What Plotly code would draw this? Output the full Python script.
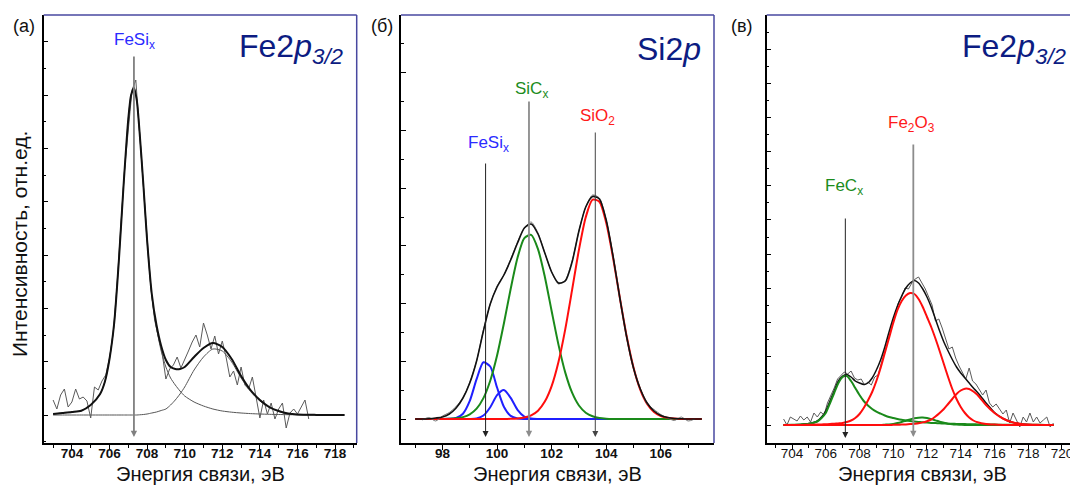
import plotly.graph_objects as go

FONT = "Arial, 'Liberation Sans', sans-serif"

# ---------------- Panel (а): Fe2p3/2, FeSix ----------------
A_GRID = [703, 703.5, 704, 704.5, 705, 705.5, 705.75, 706, 706.25, 706.5, 706.75, 707, 707.15, 707.3,
          707.45, 707.6, 707.8, 708, 708.25, 708.5, 708.75, 709, 709.25, 709.5, 709.75, 710, 710.5, 711,
          711.5, 712, 712.5, 713, 713.5, 714, 714.5, 715, 715.5, 716, 717, 718, 718.5]
A_COMP1 = [1, 2, 3, 4.3, 10, 21, 33, 56, 92, 155, 230, 296, 320, 327, 315, 283, 230, 174, 119, 87, 64, 48,
           37, 30, 24, 19, 13, 9, 6, 4, 2.8, 2, 1.4, 1, 0.7, 0.5, 0.3, 0.2, 0.1, 0, 0]
A_COMP2 = [0, 0, 0, 0, 0, 0, 0, 0, 0, 0, 0, 0, 0, 0, 0, 0.2, 0.5, 1, 2, 3, 4.5, 6, 10, 15, 21, 28, 45, 58,
           66, 64, 53, 37, 23.5, 14, 7.3, 3.5, 1.2, 0.3, 0, 0, 0]
A_ENV = [1, 2, 3, 4.3, 10, 21, 33, 56, 92, 155, 230, 296, 320, 327, 315, 283, 231, 175, 121, 90, 69, 55,
         48, 46, 46, 48, 58, 67, 72, 68, 56, 39, 25, 15, 8, 4, 1.5, 0.5, 0.1, 0, 0]
A_RAW_X = [703.0, 703.2, 703.4, 703.6, 703.8, 704.0, 704.2, 704.4, 704.6, 704.8, 705.0, 705.2, 705.4, 705.6,
           705.8, 706.0, 706.2, 706.4, 706.6, 706.8, 707.0, 707.2, 707.4, 707.6, 707.8, 708.0, 708.2, 708.4,
           708.6, 708.8, 709.0, 709.2, 709.4, 709.6, 709.8, 710.0, 710.2, 710.4, 710.6, 710.8, 711.0, 711.2,
           711.4, 711.6, 711.8, 712.0, 712.2, 712.4, 712.6, 712.8, 713.0, 713.2, 713.4, 713.6, 713.8, 714.0,
           714.2, 714.4, 714.6, 714.8, 715.0, 715.2, 715.4, 715.6, 715.8, 716.0, 716.2, 716.4, 716.6]
A_RAW_Y = [15, 6, 20, 26, 8, 13, 26, 16, 18, 14, -3, 28, 25, 34, 40, 57, 82, 130, 188, 245, 285, 325, 335,
           280, 225, 178, 128, 95, 78, 62, 36, 46, 50, 58, 47, 55, 64, 73, 80, 68, 92, 80, 66, 79, 61, 74,
           58, 38, 44, 30, 48, 30, 26, 38, 18, -3, 15, 1, 12, -4, 6, 12, -13, 2, 6, 1, 8, 15, -4]
A_PEAK_X = [707.3]
A_ARROW_TOP = [360]
A_ARROW_TIP = [-22]
A_ARROW_COLOR = ["#808080"]
A_ARROW_W = [1.8]
A_LABELS = ["FeSi<sub>x</sub>"]
A_LABEL_X = [707.35]
A_LABEL_Y = [374]
A_LABEL_COLOR = ["#2b2bff"]

# ---------------- Panel (б): Si2p ----------------
B_GRID = [97.0, 97.25, 97.5, 97.75, 98.0, 98.25, 98.5, 98.75, 99.0, 99.25, 99.5, 99.75, 100.0, 100.25,
          100.5, 100.75, 101.0, 101.25, 101.5, 101.75, 102.0, 102.25, 102.5, 102.75, 103.0, 103.25, 103.5,
          103.75, 104.0, 104.25, 104.5, 104.75, 105.0, 105.25, 105.5, 105.75, 106.0, 106.25, 106.5, 106.75,
          107.0, 107.25, 107.5]
B_FESI1 = [0, 0, 0, 0, 0, 0.13, 1.0, 5.3, 18.1, 39.8, 56.7, 52.5, 31.5, 12.3, 3.1, 0.5, 0.05,
           0, 0, 0, 0, 0, 0, 0, 0, 0, 0, 0, 0, 0, 0, 0, 0, 0, 0, 0, 0, 0, 0, 0, 0, 0, 0]
B_FESI2 = [0, 0, 0, 0, 0, 0, 0, 0, 0.07, 0.6, 3.5, 11.8, 23.8, 28.9, 21.1, 9.2, 2.4, 0.4, 0.03,
           0, 0, 0, 0, 0, 0, 0, 0, 0, 0, 0, 0, 0, 0, 0, 0, 0, 0, 0, 0, 0, 0, 0, 0]
B_SIC = [0, 0, 0, 0.02, 0.07, 0.24, 0.7, 1.9, 4.7, 10.4, 20.9, 38.3, 63.5, 95.5, 130.2, 161.2, 180.9,
         184.1, 169.9, 142.3, 108, 74.4, 46.4, 26.3, 13.5, 6.3, 2.7, 1.0, 0.36, 0.1,
         0, 0, 0, 0, 0, 0, 0, 0, 0, 0, 0, 0, 0]
B_SIO2 = [0, 0, 0, 0, 0, 0, 0, 0, 0, 0, 0, 0, 0, 0, 0.17, 0.5, 1.4, 3.6, 8.3, 17.4, 32.9, 57, 89.9, 129.1,
          169.1, 201.8, 219.4, 217.3, 196.2, 161.4, 121.1, 82.7, 51.5, 29.2, 15.1, 7.1, 3.0, 1.2, 0.4,
          0.1, 0, 0, 0]
B_ENV = [0, 0, 0.3, 1, 2, 5, 11, 21, 36, 58, 88, 115, 132, 144, 159, 176, 191, 195, 185, 166, 147, 136,
         138, 157, 188, 212, 222.5, 220, 199, 163, 121, 82, 51, 30, 16, 8, 3.5, 1.5, 0.5, 0.2, 0, 0, 0]
B_RAW_X = [97.25, 97.5, 97.75, 98.0, 98.25, 98.5, 98.75, 99.0, 99.25, 99.5, 99.75, 100.0, 100.25, 100.5,
           100.75, 101.0, 101.25, 101.5, 101.75, 102.0, 102.25, 102.5, 102.75, 103.0, 103.25, 103.5,
           103.75, 104.0, 104.25, 104.5, 104.75, 105.0, 105.25, 105.5, 105.75, 106.0, 106.25, 106.5,
           106.75, 107.0, 107.25]
B_RAW_Y = [-1, 1.5, -2, 3, 6.5, 12.5, 21, 37, 58, 89, 115, 133, 144, 160, 177, 191, 197, 186, 166, 147,
           135, 139, 158, 188, 212, 224, 221, 199, 163, 121, 82, 51, 30, 15, 9.5, 4.5, 1, -1.5, 2, -2, 0]
B_PEAK_X = [99.58, 101.17, 103.6]
B_ARROW_TOP = [257, 319, 288]
B_ARROW_TIP = [-18, -18, -18]
B_ARROW_COLOR = ["#222222", "#8c8c8c", "#444444"]
B_ARROW_W = [1, 1.8, 1]
B_LABELS = ["FeSi<sub>x</sub>", "SiC<sub>x</sub>", "SiO<sub>2</sub>"]
B_LABEL_X = [99.68, 101.25, 103.68]
B_LABEL_Y = [275, 329, 302]
B_LABEL_COLOR = ["#2b2bff", "#1c8c1c", "#ff1a1a"]

# ---------------- Panel (в): Fe2p3/2, FeCx / Fe2O3 ----------------
C_GRID = [703.5, 704, 704.5, 705, 705.5, 705.75, 706, 706.25, 706.5, 706.75, 707, 707.25, 707.5, 707.75,
          708, 708.25, 708.5, 708.75, 709, 709.25, 709.5, 709.75, 710, 710.25, 710.5, 710.75, 711, 711.25,
          711.5, 711.75, 712, 712.25, 712.5, 712.75, 713, 713.25, 713.5, 713.75, 714, 714.25, 714.5,
          714.75, 715, 715.5, 716, 716.5, 717, 717.5, 718, 718.5, 719, 719.5]
C_FEC = [0, 0.3, 0.6, 1.2, 3.5, 7, 12, 21.7, 32, 42, 48, 49, 44, 37, 30, 24, 19.5, 16, 13.3, 11.3, 9.5, 8,
         7, 6, 5.2, 4.6, 4, 3.5, 3.1, 2.7, 2.4, 2.1, 1.9, 1.7, 1.5, 1.3, 1.2, 1.1, 1, 0.9, 0.8, 0.7, 0.6,
         0.5, 0.4, 0.3, 0.3, 0.2, 0.2, 0.2, 0.1, 0.1]
C_FEC_SAT = [0, 0, 0, 0, 0, 0, 0, 0, 0, 0, 0, 0, 0, 0, 0, 0, 0, 0, 0, 0, 0.3, 0.6, 1.1, 1.9, 3, 4.3, 5.6,
             6.7, 7.3, 7.4, 6.9, 5.9, 4.6, 3.3, 2.2, 1.3, 0.7, 0.4, 0.2, 0, 0, 0, 0, 0, 0, 0, 0, 0, 0, 0,
             0, 0]
C_FE2O3 = [0, 0, 0, 0.2, 0.4, 0.6, 0.8, 1.0, 1.3, 1.6, 2, 3, 4.5, 7, 11, 17, 24.5, 33, 44, 57, 72, 87, 102,
           115, 124, 129.5, 132, 131, 126, 118, 108, 98, 86.5, 74, 61, 48, 36, 26, 18, 12, 7.5, 4.5, 2.7,
           1, 0.4, 0.1, 0, 0, 0, 0, 0, 0]
C_FE2O3_SAT = [0, 0, 0, 0, 0, 0, 0, 0, 0, 0, 0, 0, 0, 0, 0, 0, 0, 0, 0, 0, 0, 0, 0.2, 0.3, 0.4, 0.6, 0.9,
               1.3, 1.8, 2.6, 3.8, 5.5, 8.5, 12, 16, 21, 26, 31, 34.5, 36.3, 36, 33.5, 30, 20, 12, 6.5, 3,
               1.3, 0.5, 0.2, 0, 0]
C_ENV = [0, 0.3, 0.6, 1.4, 4, 8, 14, 24, 34, 44, 49, 50.5, 48, 44, 42, 40.5, 42, 47, 55, 65, 78, 93, 107,
         119, 129, 137, 142, 144.5, 142, 136, 128, 118, 106, 94, 83, 74, 65.5, 58, 52, 47, 42, 37, 32.5,
         22, 12.5, 6.5, 3, 1.3, 0.6, 0.3, 0.1, 0]
C_RAW_X = [703.5, 703.7, 703.9, 704.1, 704.3, 704.5, 704.7, 704.9, 705.1, 705.3, 705.5, 705.7, 705.9,
           706.1, 706.3, 706.5, 706.7, 706.9, 707.1, 707.3, 707.5, 707.7, 707.9, 708.1, 708.3, 708.5,
           708.7, 708.9, 709.1, 709.3, 709.5, 709.7, 709.9, 710.1, 710.3, 710.5, 710.7, 710.9, 711.1,
           711.3, 711.5, 711.7, 711.9, 712.1, 712.3, 712.5, 712.7, 712.9, 713.1, 713.3, 713.5, 713.7,
           713.9, 714.1, 714.3, 714.5, 714.7, 714.9, 715.1, 715.3, 715.5, 715.7, 715.9, 716.1, 716.3,
           716.5, 716.7, 716.9, 717.1, 717.3, 717.5, 717.7, 717.9, 718.1, 718.3, 718.5, 718.7, 718.9,
           719.1, 719.3, 719.5]
C_RAW_Y = [6, 0, 8, 6, 4, 9, 5, 8, 3, 12, 8, 13, 10, 22, 29, 37, 46, 49, 53, 51, 54, 47, 45, 46, 40, 43,
           40, 48, 50, 62, 74, 86, 97, 110, 122, 128, 137, 136, 142, 146, 148, 142, 136, 128, 120, 104,
           106, 97, 86, 76, 78, 67, 59, 52, 46, 57, 44, 41, 36, 30, 35, 22, 18, 21, 16, 11, 15, 2, 12, 5,
           -2, 8, 3, 12, 3, 8, 2, 5, 8, -2, 2]
C_PEAK_X = [707.16, 711.19]
C_ARROW_TOP = [208, 282]
C_ARROW_TIP = [-13, -12]
C_ARROW_COLOR = ["#222222", "#8c8c8c"]
C_ARROW_W = [1, 1.8]
C_LABELS = ["FeC<sub>x</sub>", "Fe<sub>2</sub>O<sub>3</sub>"]
C_LABEL_X = [707.1, 711.1]
C_LABEL_Y = [238, 301]
C_LABEL_COLOR = ["#1c8c1c", "#ff1a1a"]

TITLES = ["Fe2<i>p</i><sub><i>3/2</i></sub>", "Si2<i>p</i>", "Fe2<i>p</i><sub><i>3/2</i></sub>"]
PANEL_TAGS = ["(а)", "(б)", "(в)"]
X_TITLE = "Энергия связи, эВ"
Y_TITLE = "Интенсивность, отн.ед."

# ---------------- figure geometry ----------------
# the page body adds an 8px margin, so the figure is built 8px smaller and positions are shifted
OFF = 8
W, H = 1078 - OFF, 486 - OFF


def fx(px):
    return (px - OFF) / W


def fy(py):
    return (486 - py) / H


BLUE = "#1f1fff"
GREEN = "#1a8a1a"
RED = "#ff0d0d"
NAVY = "#0c1c82"
BORDER = "#4848a0"

fig = go.Figure()


def line(x, y, color, width, ax, shape="spline"):
    fig.add_trace(go.Scatter(
        x=x, y=y, mode="lines", xaxis="x" + ax, yaxis="y" + ax, hoverinfo="skip", showlegend=False,
        line=dict(color=color, width=width, shape=shape, smoothing=0.7 if shape == "spline" else None)))


# panel а
line(A_GRID, A_COMP1, "#555555", 1, "")
line(A_GRID, A_COMP2, "#555555", 1, "")
line(A_RAW_X, A_RAW_Y, "#5a5a5a", 1, "", "linear")
line(A_GRID, A_ENV, "#111111", 2, "")
# panel б
line(B_GRID, B_FESI1, BLUE, 2, "2")
line(B_GRID, B_FESI2, BLUE, 2, "2")
line(B_GRID, B_SIC, GREEN, 2, "2")
line(B_GRID, B_SIO2, RED, 2, "2")
line(B_RAW_X, B_RAW_Y, "#777777", 1, "2")
line(B_GRID, B_ENV, "#111111", 1.6, "2")
# panel в
line(C_RAW_X, C_RAW_Y, "#5a5a5a", 1, "3", "linear")
line(C_GRID, C_ENV, "#111111", 1.5, "3")
line(C_GRID, C_FEC, GREEN, 2, "3")
line(C_GRID, C_FEC_SAT, GREEN, 2, "3")
line(C_GRID, C_FE2O3, RED, 2, "3")
line(C_GRID, C_FE2O3_SAT, RED, 2, "3")

Y_DOM = [fy(443), fy(15)]
X_DOMS = [[fx(43.7), fx(356.7)], [fx(401), fx(714)], [fx(766.7), 1.0]]
X_RANGES = [[702.5, 719.15], [96.48, 107.95], [702.5, 720.95]]
Y_RANGES = [[-28, 400], [-24, 404], [-18, 410]]
Y_DTICK = [53.33, 57.7, 34.17]
BOLD = ["bold", "bold", "normal"]

layout = dict(width=W, height=H, margin=dict(l=0, r=0, t=0, b=0), plot_bgcolor="white",
              paper_bgcolor="white", hovermode=False, font=dict(family=FONT, color="black"))
for i in range(3):
    s = "" if i == 0 else str(i + 1)
    layout["xaxis" + s] = dict(
        domain=X_DOMS[i], range=X_RANGES[i], anchor="y" + s, showline=True, linecolor="black",
        linewidth=1.5, ticks="outside", ticklen=5, tickwidth=1, tickcolor="black", dtick=2, tick0=0,
        ticklabelstandoff=-8,
        tickfont=dict(size=13.5, family=FONT, color="#111", weight=BOLD[i]), showgrid=False, zeroline=False,
        minor=dict(ticks="outside", ticklen=3, tickwidth=1, tickcolor="black", dtick=1, tick0=0, showgrid=False),
        fixedrange=True)
    layout["yaxis" + s] = dict(
        domain=Y_DOM, range=Y_RANGES[i], anchor="x" + s, showline=True, linecolor="black", linewidth=1.5,
        ticks="inside", ticklen=5, tickwidth=1, tickcolor="black", dtick=Y_DTICK[i], tick0=0,
        showticklabels=False, showgrid=False, zeroline=False,
        minor=dict(ticks="inside", ticklen=3, tickwidth=1, tickcolor="black", dtick=Y_DTICK[i] / 2, tick0=0,
                   showgrid=False),
        fixedrange=True)
fig.update_layout(**layout)

# frame (top and right borders)
shapes = []
for i in range(3):
    s = "" if i == 0 else str(i + 1)
    shapes.append(dict(type="line", xref="x" + s + " domain", yref="y" + s + " domain", x0=0, x1=1, y0=1, y1=1,
                       line=dict(color=BORDER, width=1.5)))
    if i < 2:
        shapes.append(dict(type="line", xref="x" + s + " domain", yref="y" + s + " domain", x0=1, x1=1,
                           y0=0, y1=1, line=dict(color=BORDER, width=1.5)))
fig.update_layout(shapes=shapes)

ann = []
panels = [
    ("", A_PEAK_X, A_ARROW_TOP, A_ARROW_TIP, A_ARROW_COLOR, A_ARROW_W, A_LABELS, A_LABEL_X, A_LABEL_Y, A_LABEL_COLOR),
    ("2", B_PEAK_X, B_ARROW_TOP, B_ARROW_TIP, B_ARROW_COLOR, B_ARROW_W, B_LABELS, B_LABEL_X, B_LABEL_Y, B_LABEL_COLOR),
    ("3", C_PEAK_X, C_ARROW_TOP, C_ARROW_TIP, C_ARROW_COLOR, C_ARROW_W, C_LABELS, C_LABEL_X, C_LABEL_Y, C_LABEL_COLOR),
]
for s, px, top, tip, col, wd, labs, lx, ly, lc in panels:
    for k in range(len(px)):
        ann.append(dict(x=px[k], y=tip[k], ax=px[k], ay=top[k], xref="x" + s, yref="y" + s,
                        axref="x" + s, ayref="y" + s, showarrow=True, arrowhead=2,
                        arrowsize=1.2 if wd[k] < 1.5 else 0.7,
                        arrowwidth=wd[k], arrowcolor=col[k], text="", standoff=0, startstandoff=0))
        ann.append(dict(x=lx[k], y=ly[k], xref="x" + s, yref="y" + s, text=labs[k], showarrow=False,
                        font=dict(size=17, color=lc[k], family=FONT), xanchor="center", yanchor="middle"))

TITLE_RIGHT = [346, 703, 1069]
TAG_X = [24, 382, 742]
for i in range(3):
    s = "" if i == 0 else str(i + 1)
    ann.append(dict(x=fx(TITLE_RIGHT[i]), y=fy(49), xref="paper", yref="paper", text=TITLES[i],
                    showarrow=False, xanchor="right", yanchor="middle",
                    font=dict(size=32, color=NAVY, family=FONT)))
    ann.append(dict(x=fx(TAG_X[i]), y=fy(26), xref="paper", yref="paper", text=PANEL_TAGS[i],
                    showarrow=False, xanchor="center", yanchor="middle",
                    font=dict(size=18, color="#111", family=FONT)))
    ann.append(dict(x=0.5, y=0.0, xref="x" + s + " domain", yref="paper", text=X_TITLE,
                    showarrow=False, xanchor="center", yanchor="bottom", borderpad=0,
                    font=dict(size=20, color="#111", family=FONT)))
ann.append(dict(x=fx(20), y=fy(244), xref="paper", yref="paper", text=Y_TITLE, textangle=-90,
                showarrow=False, xanchor="center", yanchor="middle", font=dict(size=21, color="#111", family=FONT)))
fig.update_layout(annotations=ann)

fig.write_html("out.html")
